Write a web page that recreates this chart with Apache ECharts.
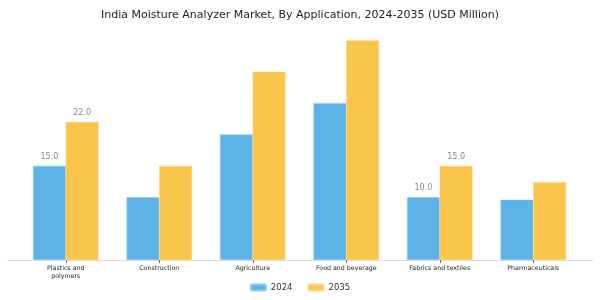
<!DOCTYPE html>
<html><head><meta charset="utf-8">
<script src="https://cdn.jsdelivr.net/npm/echarts@6/dist/echarts.min.js"></script>
<style>html,body{margin:0;padding:0;background:#fff}#c{width:600px;height:300px}</style>
</head><body><div id="c"></div>
<script>
var categories = ['Plastics and\npolymers','Construction','Agriculture','Food and beverage','Fabrics and textiles','Pharmaceuticals'];
var values2024 = [15.0, 10.0, 20.0, 25.0, 10.0, 9.6];
var values2035 = [22.0, 15.0, 30.0, 35.0, 15.0, 12.4];
var labeled2024 = [true, false, false, false, true, false];
var labeled2035 = [true, false, false, false, true, false];

function mk(vals, flags){
  return vals.map(function(v,i){
    return {value:v, label:{show:flags[i]}};
  });
}
var chart = echarts.init(document.getElementById('c'), null, {renderer:'canvas'});
var font = 'DejaVu Sans';
var valLabel = {position:'top', fontFamily:font, fontSize:8, color:'#888', distance:5,
  formatter:function(p){return p.value.toFixed(1);}};
chart.setOption({
  animation:false,
  title:{text:'India Moisture Analyzer Market, By Application, 2024-2035 (USD Million)', left:'center', top:5,
    textStyle:{fontFamily:font, fontSize:11, fontWeight:'normal', color:'#222'}},
  legend:{bottom:3, itemWidth:15, itemHeight:6, itemGap:15,
    textStyle:{fontFamily:font, fontSize:8.5, color:'#333'},
    data:['2024','2035']},
  grid:[
    {left:19, right:20, top:9, bottom:40, containLabel:false},
    {left:8, right:7, top:9, bottom:40, containLabel:false}
  ],
  xAxis:[
    {type:'category', data:categories, gridIndex:0,
      axisLine:{show:false},
      axisTick:{show:true, alignWithLabel:true, length:3, lineStyle:{color:'#666'}},
      axisLabel:{fontFamily:font, fontSize:6.3, color:'#222', margin:4, interval:0, lineHeight:8}},
    {type:'value', gridIndex:1, min:0, max:1, axisLine:{show:true, lineStyle:{color:'#dddddd'}},
      axisTick:{show:false}, axisLabel:{show:false}, splitLine:{show:false}}
  ],
  yAxis:[
    {type:'value', gridIndex:0, min:0, max:40, show:false, splitLine:{show:false}},
    {type:'value', gridIndex:1, min:0, max:40, show:false, splitLine:{show:false}}
  ],
  series:[
    {name:'2024', type:'bar', data:mk(values2024, labeled2024), barGap:'0%', barCategoryGap:'30%',
      itemStyle:{color:'#5DB3E7', borderColor:'#8ccaf0', borderWidth:0.5}, label:valLabel},
    {name:'2035', type:'bar', data:mk(values2035, labeled2035),
      itemStyle:{color:'#F9C54A', borderColor:'#fcd77f', borderWidth:0.5}, label:valLabel}
  ]
});
</script></body></html>
